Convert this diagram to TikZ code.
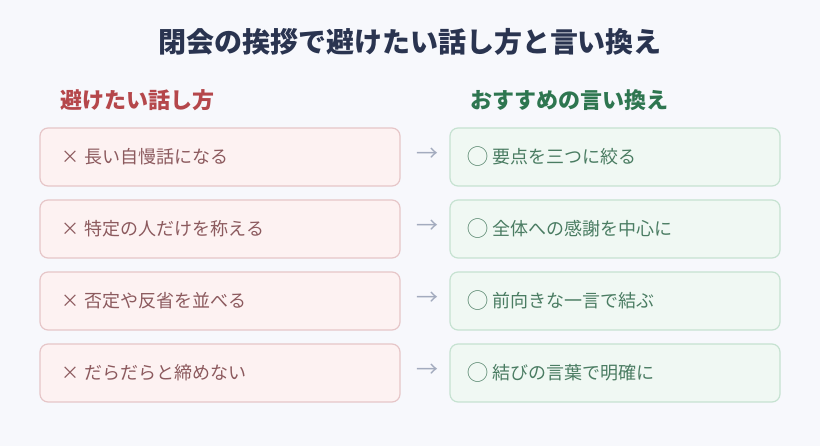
\documentclass[tikz,border=0pt]{standalone}
\usepackage{fontspec}
\setmainfont{Noto Sans CJK JP}
\usetikzlibrary{calc}
\definecolor{bg}{HTML}{F7F8FC}
\definecolor{titlec}{HTML}{2A3450}
\definecolor{badh}{HTML}{B5474B}
\definecolor{goodh}{HTML}{2E7650}
\definecolor{badfill}{HTML}{FDF2F2}
\definecolor{baddraw}{HTML}{E6C6C8}
\definecolor{goodfill}{HTML}{F0F8F3}
\definecolor{gooddraw}{HTML}{C6E2D1}
\definecolor{badtxt}{HTML}{8C5A5E}
\definecolor{goodtxt}{HTML}{4A7C62}
\definecolor{arrowc}{HTML}{A3ABBE}
\tikzset{
  badbox/.style={draw=baddraw, fill=badfill, line width=1.2pt, rounded corners=8pt,
    minimum width=360pt, minimum height=58pt, inner sep=0pt},
  goodbox/.style={draw=gooddraw, fill=goodfill, line width=1.2pt, rounded corners=8pt,
    minimum width=330pt, minimum height=58pt, inner sep=0pt},
  badlabel/.style={anchor=west, text=badtxt, font=\fontsize{18pt}{20pt}\selectfont, inner sep=0pt},
  goodlabel/.style={anchor=west, text=goodtxt, font=\fontsize{18pt}{20pt}\selectfont, inner sep=0pt},
  arrowglyph/.style={text=arrowc, font=\fontsize{22pt}{24pt}\selectfont, inner sep=0pt},
  header/.style={anchor=west, font=\fontsize{22pt}{24pt}\selectfont\bfseries, inner sep=0pt}
}
\begin{document}
\begin{tikzpicture}[x=1pt,y=-1pt]
\path[fill=bg,use as bounding box] (0,0) rectangle (820,446);
\node[text=titlec, font=\fontsize{28pt}{30pt}\selectfont\bfseries, inner sep=0pt] (title) at (410,42) {閉会の挨拶で避けたい話し方と言い換え};
\node[header, text=badh] (hbad) at (60,100) {避けたい話し方};
\node[header, text=goodh] (hgood) at (470,100) {おすすめの言い換え};
\foreach \i/\b/\g in {1/長い自慢話になる/要点を三つに絞る,
                      2/特定の人だけを称える/全体への感謝を中心に,
                      3/否定や反省を並べる/前向きな一言で結ぶ,
                      4/だらだらと締めない/結びの言葉で明確に}{
  \pgfmathsetmacro{\yy}{157+72*(\i-1)}
  \node[badbox] (l\i) at (220,\yy) {};
  \node[goodbox] (r\i) at (615,\yy) {};
  \node[badlabel] (lt\i) at ($(l\i.west)+(22,0)$) {×\hspace{5pt}\b};
  \node[goodlabel] (rt\i) at ($(r\i.west)+(18,0)$) {\raisebox{-1.5pt}{\fontsize{21pt}{20pt}\selectfont ◯}\hspace{4pt}\g};
  \node[arrowglyph] (a\i) at ($(l\i.east)!0.5!(r\i.west)+(2,-2.5)$) {→};
}
\end{tikzpicture}
\end{document}
